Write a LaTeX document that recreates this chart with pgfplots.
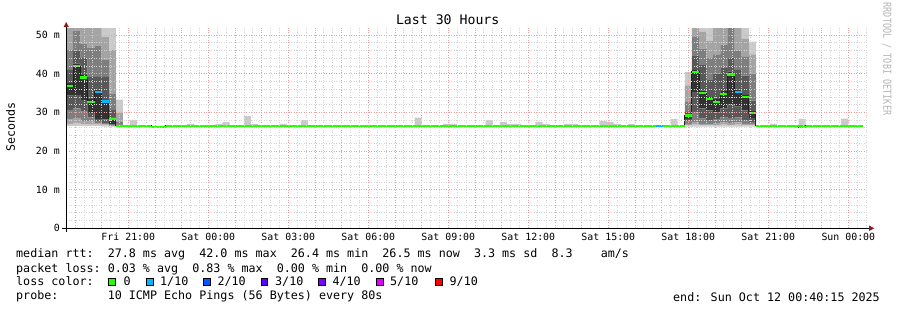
\documentclass[border=0pt]{standalone}
\usepackage{graphicx}
\usepackage{pgfplots}
\pgfplotsset{compat=1.18}
\usepackage{pgfplotstable}
\usepackage{fontspec}
\setmainfont{DejaVu Sans Mono}
\setmonofont{DejaVu Sans Mono}
\usetikzlibrary{arrows.meta}

\definecolor{sA}{HTML}{CACACA}
\definecolor{sB}{HTML}{A4A4A4}
\definecolor{sC}{HTML}{7E7E7E}
\definecolor{sD}{HTML}{585858}
\definecolor{sE}{HTML}{323232}
\definecolor{lossA}{HTML}{26FF00}
\definecolor{lossB}{HTML}{00B8FF}
\definecolor{lossC}{HTML}{0059FF}
\definecolor{lossD}{HTML}{5E00FF}
\definecolor{lossE}{HTML}{7E00FF}
\definecolor{lossF}{HTML}{DD00FF}
\definecolor{lossG}{HTML}{FF0000}
\definecolor{mgrid}{HTML}{F0A0A0}
\definecolor{mingrid}{HTML}{D4D4D4}
\definecolor{arrowred}{HTML}{8B1A1A}
\definecolor{medline}{HTML}{202020}
\definecolor{wmark}{HTML}{B4B4B4}

% smoke: sorted ping bounds per 16-minute column (x = column centre, hours since Fri 00:00)
\pgfplotstableread{
x       p1   p2   p3   p4   p5   p6   p7   p8   p9   p10
18.8000 26.4 27.0 28.3 30.6 34.3 37.6 41.0 46.1 60   60
19.0667 26.5 27.3 28.5 31.0 34.5 42.6 46.0 51.0 60   60
19.3333 26.4 26.9 27.6 30.2 33.2 39.6 44.0 47.8 60   60
19.6000 26.4 27.0 27.6 28.6 29.8 33.5 39.2 46.6 60   60
19.8667 26.4 26.8 27.2 27.7 28.3 35.9 39.2 47.1 60   60
20.1333 26.3 26.6 26.9 27.3 28.2 33.2 39.2 43.5 49.6 60
20.4000 26.3 26.4 26.5 26.6 26.9 28.6 30.6 34.9 46.1 60
20.6667 26.3 26.4 26.4 26.5 26.5 26.6 26.8 27.5 29.8 33.3
21.2000 26.3 26.4 26.4 26.5 26.5 26.5 26.6 26.6 26.7 28.0
23.3333 26.3 26.4 26.4 26.5 26.5 26.5 26.6 26.6 26.7 27.0
24.4000 26.3 26.4 26.4 26.5 26.5 26.5 26.6 26.6 26.7 27.0
24.6667 26.3 26.4 26.4 26.5 26.5 26.5 26.6 26.6 26.7 27.5
25.4667 26.3 26.4 26.4 26.5 26.5 26.5 26.6 26.6 26.7 29.0
25.7333 26.3 26.4 26.4 26.5 26.5 26.5 26.6 26.6 26.7 27.0
26.8000 26.3 26.4 26.4 26.5 26.5 26.5 26.6 26.6 26.7 27.0
27.6000 26.3 26.4 26.4 26.5 26.5 26.5 26.6 26.6 26.7 28.0
31.8667 26.3 26.4 26.4 26.5 26.5 26.5 26.6 26.6 26.7 28.6
32.9333 26.3 26.4 26.4 26.5 26.5 26.5 26.6 26.6 26.7 27.0
33.2000 26.3 26.4 26.4 26.5 26.5 26.5 26.6 26.6 26.7 27.0
34.5333 26.3 26.4 26.4 26.5 26.5 26.5 26.6 26.6 26.7 28.0
35.0667 26.3 26.4 26.4 26.5 26.5 26.5 26.6 26.6 26.7 27.5
35.3333 26.3 26.4 26.4 26.5 26.5 26.5 26.6 26.6 26.7 27.0
35.6000 26.3 26.4 26.4 26.5 26.5 26.5 26.6 26.6 26.7 27.0
36.4000 26.3 26.4 26.4 26.5 26.5 26.5 26.6 26.6 26.7 27.5
36.6667 26.3 26.4 26.4 26.5 26.5 26.5 26.6 26.6 26.7 27.0
37.4667 26.3 26.4 26.4 26.5 26.5 26.5 26.6 26.6 26.7 27.0
37.7333 26.3 26.4 26.4 26.5 26.5 26.5 26.6 26.6 26.7 27.0
38.8000 26.3 26.4 26.4 26.5 26.5 26.5 26.6 26.6 26.7 27.8
39.0667 26.3 26.4 26.4 26.5 26.5 26.5 26.6 26.6 26.7 27.5
39.3333 26.3 26.4 26.4 26.5 26.5 26.5 26.6 26.6 26.7 27.0
39.8667 26.3 26.4 26.4 26.5 26.5 26.5 26.6 26.6 26.7 27.0
41.4667 26.3 26.4 26.4 26.5 26.5 26.5 26.6 26.6 26.7 28.3
42.0000 26.3 26.6 27.0 27.6 28.3 29.6 30.1 32.7 37.0 40.4
42.2667 26.3 26.8 27.5 30.1 35.3 41.0 44.7 49.5 60   60
42.5333 26.3 26.6 27.0 28.4 31.0 35.6 42.2 46.5 50.8 60
42.8000 26.3 26.6 27.0 28.0 30.5 34.0 38.5 44.0 48.5 60
43.0667 26.3 26.7 27.2 28.3 30.0 33.5 40.0 45.0 52.0 60
43.3333 26.3 26.8 27.5 28.8 31.0 35.5 41.5 47.5 60   60
43.6000 26.3 26.7 27.3 28.5 32.0 40.5 44.0 52.0 60   60
43.8667 26.3 26.8 27.4 28.6 31.5 35.9 41.0 46.0 60   60
44.1333 26.3 26.6 27.0 28.0 30.5 34.5 39.5 44.5 49.0 60
44.4000 26.3 26.6 27.0 27.5 28.5 30.3 33.0 40.0 45.0 48.3
45.2000 26.3 26.4 26.4 26.5 26.5 26.5 26.6 26.6 26.7 27.0
46.2667 26.2 26.3 26.3 26.4 26.4 26.4 26.5 26.6 26.7 28.3
47.8667 26.3 26.4 26.4 26.5 26.5 26.5 26.6 26.6 26.7 28.4
}\smoke

% median rtt, value held from x to the next x
\pgfplotstableread{
x       med
18.6708 36.8
18.9333 41.9
19.2000 39.0
19.4667 32.7
19.7333 35.3
20.0000 32.8
20.2667 28.3
20.5333 26.5
21.8667 26.2
22.4000 26.5
41.8667 29.2
42.1333 40.5
42.4000 34.9
42.6667 33.4
42.9333 32.7
43.2000 34.7
43.4667 39.8
43.7333 35.3
44.0000 34.0
44.2667 29.8
44.5333 26.5
46.1333 26.2
46.4000 26.5
48.5333 26.5
}\median

\pgfplotsset{
  base/.style={scale only axis, width=800bp, height=200.26bp,
    xmin=18.6708, xmax=48.6708, ymin=0, ymax=51.8,
    at={(66.2bp,81.7bp)}, anchor=south west},
  smk/.style={draw=none, fill=#1},
}

\begin{document}
\begin{tikzpicture}
\useasboundingbox (0,0) rectangle (897bp,310bp);

% ---- smoke ----
\begin{axis}[base, hide axis, ybar stacked, bar width=0.26667]
\addplot[draw=none, fill=none] table[x=x, y=p1]{\smoke};
\addplot[smk=sA] table[x=x, y expr=\thisrow{p2}-\thisrow{p1}]{\smoke};
\addplot[smk=sB] table[x=x, y expr=\thisrow{p3}-\thisrow{p2}]{\smoke};
\addplot[smk=sC] table[x=x, y expr=\thisrow{p4}-\thisrow{p3}]{\smoke};
\addplot[smk=sD] table[x=x, y expr=\thisrow{p5}-\thisrow{p4}]{\smoke};
\addplot[smk=sE] table[x=x, y expr=\thisrow{p6}-\thisrow{p5}]{\smoke};
\addplot[smk=sD] table[x=x, y expr=\thisrow{p7}-\thisrow{p6}]{\smoke};
\addplot[smk=sC] table[x=x, y expr=\thisrow{p8}-\thisrow{p7}]{\smoke};
\addplot[smk=sB] table[x=x, y expr=\thisrow{p9}-\thisrow{p8}]{\smoke};
\addplot[smk=sA] table[x=x, y expr=\thisrow{p10}-\thisrow{p9}]{\smoke};
\end{axis}

% ---- grid, axes, median ----
\begin{axis}[base, axis on top,
  axis lines=left,
  axis line style={black, line width=0.8bp},
  x axis line style={-{Triangle[length=5bp,width=5bp,color=arrowred]}, shorten >=-8bp, shorten <=-4bp},
  y axis line style={-{Triangle[length=5bp,width=5bp,color=arrowred]}, shorten >=-6bp, shorten <=-4bp},
  xtick={19,20,...,48},
  xticklabels={{},{},{Fri 21:00},{},{},{Sat 00:00},{},{},{Sat 03:00},{},{},{Sat 06:00},{},{},{Sat 09:00},{},{},{Sat 12:00},{},{},{Sat 15:00},{},{},{Sat 18:00},{},{},{Sat 21:00},{},{},{Sun 00:00}},
  minor xtick={18.6667,19,...,48.6667},
  ytick={0,10,20,30,40,50},
  yticklabels={{0},{10 m},{20 m},{30 m},{40 m},{50 m}},
  minor ytick={2,4,...,50},
  grid=both,
  major grid style={mgrid, line width=0.7bp, dash pattern=on 1bp off 1.5bp},
  minor grid style={mingrid, line width=0.7bp, dash pattern=on 1bp off 1.5bp},
  major tick length=0pt, minor tick length=0pt,
  xticklabel style={anchor=base, inner sep=0pt, yshift=-12.4bp, font=\fontsize{9.9bp}{11bp}\selectfont},
  yticklabel style={anchor=east, inner sep=0pt, xshift=-6.2bp, font=\fontsize{9.9bp}{11bp}\selectfont},
  unbounded coords=jump,
]
\addplot[medline, line width=0.8bp, const plot] table[x=x, y=med]{\median};
% median bars coloured by packet loss: 0 lost
\addplot[lossA, line width=2.2bp] coordinates {
(18.6708,36.8)(18.9333,36.8)(18.9333,nan)
(18.9333,41.9)(19.2,41.9)(19.2,nan)
(19.2,39.0)(19.4667,39.0)(19.4667,nan)
(19.4667,32.7)(19.7333,32.7)(19.7333,nan)
(20.2667,28.3)(20.5333,28.3)(20.5333,nan)
(20.5333,26.5)(21.8667,26.5)(21.8667,nan)
(21.8667,26.2)(22.4,26.2)(22.4,nan)
(22.4,26.5)(40.8,26.5)(40.8,nan)
(41.0667,26.5)(41.8667,26.5)(41.8667,nan)
(41.8667,29.2)(42.1333,29.2)(42.1333,nan)
(42.1333,40.5)(42.4,40.5)(42.4,nan)
(42.4,34.9)(42.6667,34.9)(42.6667,nan)
(42.6667,33.4)(42.9333,33.4)(42.9333,nan)
(42.9333,32.7)(43.2,32.7)(43.2,nan)
(43.2,34.7)(43.4667,34.7)(43.4667,nan)
(43.4667,39.8)(43.7333,39.8)(43.7333,nan)
(44.0,34.0)(44.2667,34.0)(44.2667,nan)
(44.2667,29.8)(44.5333,29.8)(44.5333,nan)
(44.5333,26.5)(46.1333,26.5)(46.1333,nan)
(46.1333,26.2)(46.4,26.2)(46.4,nan)
(46.4,26.5)(48.5333,26.5)
};
% 1/10 lost
\addplot[lossB, line width=2.2bp] coordinates {
(19.7333,35.3)(20.0,35.3)(20.0,nan)
(20.0,32.8)(20.2667,32.8)(20.2667,nan)
(40.8,26.5)(41.0667,26.5)(41.0667,nan)
(43.7333,35.3)(44.0,35.3)
};
\end{axis}

% ---- texts ----
\node[anchor=base, font=\fontsize{13.2bp}{15bp}\selectfont] at (447.7bp,285bp) {Last 30 Hours};
\node[rotate=90, anchor=center, font=\fontsize{11.6bp}{13bp}\selectfont] at (10.5bp,183bp) {Seconds};
\node[rotate=-90, anchor=center, text=wmark, font=\fontsize{8.5bp}{10bp}\selectfont] at (887bp,251bp) {\scalebox{1}[1.3]{RRDTOOL / TOBI OETIKER}};

\begin{scope}[every node/.style={anchor=base west, inner sep=0pt, font=\fontsize{11.7bp}{14bp}\selectfont}]
\node at (16bp,52bp) {median rtt:~~27.8 ms avg~~42.0 ms max~~26.4 ms min~~26.5 ms now~~3.3 ms sd~~8.3~~~~am/s};
\node at (16bp,38bp) {packet loss:~0.03 \% avg~~0.83 \% max~~0.00 \% min~~0.00 \% now};
\node at (16bp,24.4bp) {loss color:};
\node at (16bp,10.6bp) {probe:~~~~~~~10 ICMP Echo Pings (56 Bytes) every 80s};
\node at (123.3bp,24.4bp) {0};
\node at (160bp,24.4bp) {1/10};
\node at (217.3bp,24.4bp) {2/10};
\node at (275bp,24.4bp) {3/10};
\node at (332.3bp,24.4bp) {4/10};
\node at (390bp,24.4bp) {5/10};
\node at (449.5bp,24.4bp) {9/10};
\node[anchor=base east] at (880bp,8.9bp) {end: Sun Oct 12 00:40:15 2025};
\end{scope}
\begin{scope}[line width=0.8bp]
\draw[fill=lossA] (108.7bp,24.4bp) rectangle ++(6.6bp,7.4bp);
\draw[fill=lossB] (146.4bp,24.4bp) rectangle ++(6.6bp,7.4bp);
\draw[fill=lossC] (203.7bp,24.4bp) rectangle ++(6.6bp,7.4bp);
\draw[fill=lossD] (261.1bp,24.4bp) rectangle ++(6.6bp,7.4bp);
\draw[fill=lossE] (318.7bp,24.4bp) rectangle ++(6.6bp,7.4bp);
\draw[fill=lossF] (376.4bp,24.4bp) rectangle ++(6.6bp,7.4bp);
\draw[fill=lossG] (435.4bp,24.4bp) rectangle ++(6.6bp,7.4bp);
\end{scope}
\end{tikzpicture}
\end{document}
